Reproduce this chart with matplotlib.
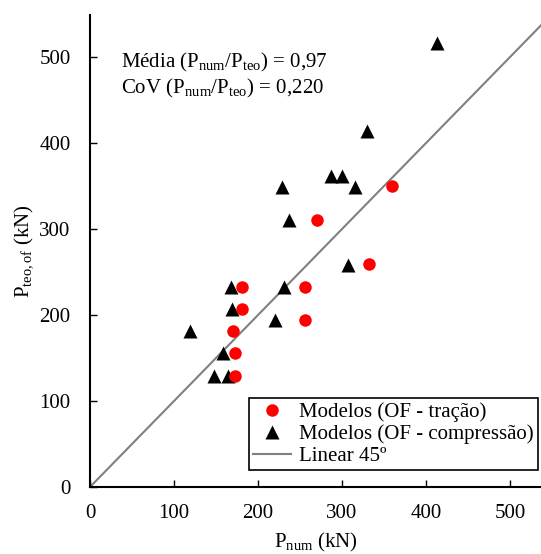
import matplotlib
matplotlib.use("Agg")
import matplotlib.pyplot as plt

plt.rcParams['font.family'] = ['Liberation Serif', 'DejaVu Serif']
plt.rcParams['mathtext.fontset'] = 'custom'
plt.rcParams['mathtext.rm'] = 'Liberation Serif'
plt.rcParams['mathtext.it'] = 'Liberation Serif:italic'

# Data: P_num (x) vs P_teo,of (y)
tracao_x = [359.5, 269.8, 331.8, 180.6, 256.0, 180.6, 256.0, 169.8, 173.0, 172.6]
tracao_y = [350.0, 310.5, 259.0, 233.0, 233.0, 206.6, 194.2, 181.4, 155.4, 129.4]

comp_x = [413.5, 329.4, 228.9, 286.5, 300.4, 315.5, 237.3, 306.8, 167.5, 230.5,
          169.0, 220.2, 119.0, 158.3, 148.0, 164.3]
comp_y = [517.0, 414.0, 349.2, 362.0, 362.0, 349.0, 310.5, 258.0, 233.0, 233.0,
          206.6, 194.2, 181.4, 155.4, 129.4, 129.4]

line_x = [0, 560]
line_y = [0, 560]

xticks = [0, 100, 200, 300, 400, 500]
yticks = [0, 100, 200, 300, 400, 500]

fig = plt.figure(figsize=(5.41, 5.54), dpi=100)
ax = fig.add_axes([90/541, 67/554, (541-90)/541, (487-15)/554])

ax.plot(line_x, line_y, color='#808080', lw=1.5, label='Linear 45º', zorder=1)
ax.plot(tracao_x, tracao_y, 'o', color='#ff0000', ms=9, mec='none',
        label='Modelos (OF - tração)', zorder=3)
ax.plot(comp_x, comp_y, '^', color='black', ms=9.5, mec='none',
        label='Modelos (OF - compressão)', zorder=2)

ax.set_xlim(0, 537)
ax.set_ylim(0, 549)
ax.set_xticks(xticks)
ax.set_yticks(yticks)
ax.tick_params(direction='in', length=5, width=1, labelsize=15)
ax.tick_params(axis='x', pad=12)
ax.tick_params(axis='y', pad=14)
for s in ['top', 'right']:
    ax.spines[s].set_visible(False)
for s in ['left', 'bottom']:
    ax.spines[s].set_linewidth(1.5)

ax.set_xlabel(r'$\mathrm{P_{num}}$ (kN)', fontsize=15, labelpad=6)
ax.set_ylabel(r'$\mathrm{P_{teo,of}}$ (kN)', fontsize=15, labelpad=3)

ax.text(0.068, 0.90, r'Média ($\mathrm{P_{num}/P_{teo}}$) = 0,97', transform=ax.transAxes,
        fontsize=15, va='center', ha='left')
ax.text(0.068, 0.845, r'CoV ($\mathrm{P_{num}/P_{teo}}$) = 0,220', transform=ax.transAxes,
        fontsize=15, va='center', ha='left')

handles, labels = ax.get_legend_handles_labels()
order = [1, 2, 0]
leg = ax.legend([handles[i] for i in order], [labels[i] for i in order],
                loc='lower right', bbox_to_anchor=(538/541*541/451 - 90/451, 17/472),
                fontsize=15, frameon=True, fancybox=False,
                edgecolor='black', framealpha=1, borderpad=0.2, labelspacing=0.1,
                handlelength=1.8, handletextpad=0.4, borderaxespad=0.0)
leg.get_frame().set_linewidth(1.2)

fig.savefig('out.png', dpi=100)
